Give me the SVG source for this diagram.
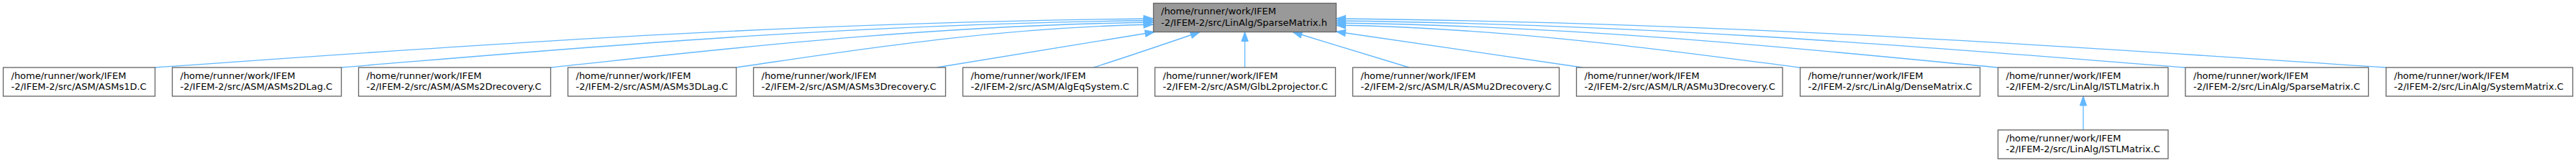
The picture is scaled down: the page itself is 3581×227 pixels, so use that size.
<svg xmlns="http://www.w3.org/2000/svg" width="3581" height="227" viewBox="0 0 3581 227">
<style>
.nb{fill:#ffffff;stroke:#666666;stroke-width:1.33}
.nm{fill:#999999;stroke:#666666;stroke-width:1.33}
text{font-family:"DejaVu Sans","Liberation Sans",sans-serif;font-size:13px;fill:#000000}
.e{fill:none;stroke:#63b8ff;stroke-width:1.33;marker-end:url(#ah)}
</style>
<defs>
<marker id="ah" markerUnits="userSpaceOnUse" markerWidth="16" markerHeight="12" refX="13" refY="4.7" orient="auto" overflow="visible">
<path d="M0,0 L13,4.7 L0,9.4 Z" fill="#63b8ff" stroke="#63b8ff" stroke-width="1"/>
</marker>
</defs>
<g id="connectors">
<path class="e" d="M215,94 C562,70.2 1048,31.4 1603,26"/>
<path class="e" d="M474,94 C756,71 1151,33.7 1603,28.5"/>
<path class="e" d="M765,94 C974.5,72 1267.8,36 1603,31"/>
<path class="e" d="M1023,94 C1168,73 1371,38.8 1603,34"/>
<path class="e" d="M1302,94 C1400,78 1500,61 1605,44.5"/>
<path class="e" d="M1520,94 C1570,78 1620,61 1668,44.5"/>
<path class="e" d="M1730.5,94 L1730.5,44.5"/>
<path class="e" d="M1959,94 C1905,78 1851,61 1797,44.5"/>
<path class="e" d="M2200,94 C2086,77 1971,61 1857.5,44"/>
<path class="e" d="M2502,94 C2341,73.7 2115,39.7 1857.5,35"/>
<path class="e" d="M2777,94 C2547,72.5 2225,36.9 1857.5,32"/>
<path class="e" d="M3038,94 C2743,71.4 2330,34.2 1857.5,29"/>
<path class="e" d="M3317,94 C2952,70.6 2441,31.4 1857.5,26"/>
<path class="e" d="M2896,181 L2896,134"/>
</g>
<g id="node_main">
<rect class="nm" x="1603.5" y="4.5" width="254" height="40"/>
<text x="1614" y="20">/home/runner/work/IFEM</text>
<text x="1614" y="35.5">-2/IFEM-2/src/LinAlg/SparseMatrix.h</text>
</g>
<g id="node1">
<rect class="nb" x="4.5" y="94" width="211" height="40"/>
<text x="15.5" y="109.5">/home/runner/work/IFEM</text>
<text x="15.5" y="124.5">-2/IFEM-2/src/ASM/ASMs1D.C</text>
</g>
<g id="node2">
<rect class="nb" x="239.5" y="94" width="235" height="40"/>
<text x="250.5" y="109.5">/home/runner/work/IFEM</text>
<text x="250.5" y="124.5">-2/IFEM-2/src/ASM/ASMs2DLag.C</text>
</g>
<g id="node3">
<rect class="nb" x="498.5" y="94" width="267" height="40"/>
<text x="509.5" y="109.5">/home/runner/work/IFEM</text>
<text x="509.5" y="124.5">-2/IFEM-2/src/ASM/ASMs2Drecovery.C</text>
</g>
<g id="node4">
<rect class="nb" x="789.5" y="94" width="234" height="40"/>
<text x="800.5" y="109.5">/home/runner/work/IFEM</text>
<text x="800.5" y="124.5">-2/IFEM-2/src/ASM/ASMs3DLag.C</text>
</g>
<g id="node5">
<rect class="nb" x="1047.5" y="94" width="267" height="40"/>
<text x="1058.5" y="109.5">/home/runner/work/IFEM</text>
<text x="1058.5" y="124.5">-2/IFEM-2/src/ASM/ASMs3Drecovery.C</text>
</g>
<g id="node6">
<rect class="nb" x="1338.5" y="94" width="243" height="40"/>
<text x="1349.5" y="109.5">/home/runner/work/IFEM</text>
<text x="1349.5" y="124.5">-2/IFEM-2/src/ASM/AlgEqSystem.C</text>
</g>
<g id="node7">
<rect class="nb" x="1605.5" y="94" width="251" height="40"/>
<text x="1616.5" y="109.5">/home/runner/work/IFEM</text>
<text x="1616.5" y="124.5">-2/IFEM-2/src/ASM/GlbL2projector.C</text>
</g>
<g id="node8">
<rect class="nb" x="1880.5" y="94" width="287" height="40"/>
<text x="1891.5" y="109.5">/home/runner/work/IFEM</text>
<text x="1891.5" y="124.5">-2/IFEM-2/src/ASM/LR/ASMu2Drecovery.C</text>
</g>
<g id="node9">
<rect class="nb" x="2191.5" y="94" width="286.5" height="40"/>
<text x="2202.5" y="109.5">/home/runner/work/IFEM</text>
<text x="2202.5" y="124.5">-2/IFEM-2/src/ASM/LR/ASMu3Drecovery.C</text>
</g>
<g id="node10">
<rect class="nb" x="2502.5" y="94" width="250" height="40"/>
<text x="2513.5" y="109.5">/home/runner/work/IFEM</text>
<text x="2513.5" y="124.5">-2/IFEM-2/src/LinAlg/DenseMatrix.C</text>
</g>
<g id="node11">
<rect class="nb" x="2777.5" y="94" width="236.5" height="40"/>
<text x="2788.5" y="109.5">/home/runner/work/IFEM</text>
<text x="2788.5" y="124.5">-2/IFEM-2/src/LinAlg/ISTLMatrix.h</text>
</g>
<g id="node12">
<rect class="nb" x="3038" y="94" width="254.5" height="40"/>
<text x="3049" y="109.5">/home/runner/work/IFEM</text>
<text x="3049" y="124.5">-2/IFEM-2/src/LinAlg/SparseMatrix.C</text>
</g>
<g id="node13">
<rect class="nb" x="3317" y="94" width="259.5" height="40"/>
<text x="3328" y="109.5">/home/runner/work/IFEM</text>
<text x="3328" y="124.5">-2/IFEM-2/src/LinAlg/SystemMatrix.C</text>
</g>
<g id="node14">
<rect class="nb" x="2777.5" y="181" width="236.5" height="40"/>
<text x="2788.5" y="196.5">/home/runner/work/IFEM</text>
<text x="2788.5" y="211.5">-2/IFEM-2/src/LinAlg/ISTLMatrix.C</text>
</g>
</svg>
